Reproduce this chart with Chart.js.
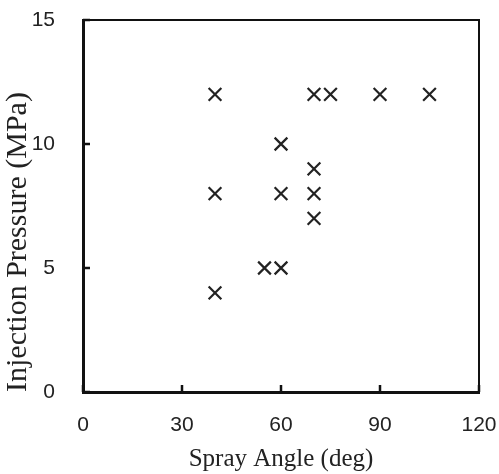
<!DOCTYPE html>
<html lang="en">
<head>
 <meta charset="UTF-8">
 <title>Spray Angle vs Injection Pressure</title>
 <script src="https://cdn.jsdelivr.net/npm/chart.js"></script>
 <style>
 html, body { margin: 0; padding: 0; background: #fff; }
 #wrap { width: 499px; height: 474px; }
 </style>
</head>
<body>
 <div id="wrap"><canvas id="sprayChart" width="499" height="474"></canvas></div>
 <script>
 // values
 let sprayAngle = [40, 40, 40, 55, 60, 60, 60, 70, 75, 70, 70, 70, 90, 105];
 let injectionPressure = [12, 8, 4, 5, 5, 8, 10, 12, 12, 9, 8, 7, 12, 12];
 let xTicks = [0, 30, 60, 90, 120];
 let yTicks = [0, 5, 10, 15];

 let points = sprayAngle.map((a, i) => ({ x: a, y: injectionPressure[i] }));

 // inward tick marks + thinner top/right frame
 const frame = {
   id: 'frame',
   afterDraw(chart) {
     let ctx = chart.ctx;
     let a = chart.chartArea;
     let xs = chart.scales.x, ys = chart.scales.y;
     ctx.save();
     ctx.strokeStyle = '#111';
     ctx.lineWidth = 2;
     ctx.beginPath();
     ctx.moveTo(a.left, a.top);
     ctx.lineTo(a.right, a.top);
     ctx.lineTo(a.right, a.bottom);
     ctx.stroke();
     ctx.lineWidth = 2.5;
     ctx.beginPath();
     xTicks.forEach(v => {
       let px = xs.getPixelForValue(v);
       ctx.moveTo(px, a.bottom);
       ctx.lineTo(px, a.bottom - 7);
     });
     yTicks.forEach(v => {
       let py = ys.getPixelForValue(v);
       ctx.moveTo(a.left, py);
       ctx.lineTo(a.left + 7, py);
     });
     ctx.stroke();
     ctx.restore();
   }
 };

 new Chart(document.getElementById('sprayChart'), {
   type: 'scatter',
   data: {
     datasets: [{
       data: points,
       pointStyle: 'crossRot',
       pointRadius: 9,
       pointBorderWidth: 2.2,
       borderColor: '#222',
       backgroundColor: '#222'
     }]
   },
   options: {
     responsive: false,
     animation: false,
     layout: { padding: { top: 20, right: 20, left: 0, bottom: 0 } },
     plugins: { legend: { display: false }, tooltip: { enabled: false } },
     scales: {
       x: {
         min: 0, max: 120,
         afterBuildTicks: s => { s.ticks = xTicks.map(v => ({ value: v })); },
         afterFit: s => { s.height = 82; s.paddingLeft = 0; s.paddingRight = 0; },
         grid: { display: false },
         border: { display: true, color: '#111', width: 3 },
         ticks: { color: '#222', padding: 13, maxRotation: 0,
                  font: { family: 'Liberation Sans', size: 21 } },
         title: { display: true, text: 'Spray Angle (deg)', color: '#222',
                  padding: { top: 6, bottom: 0 },
                  font: { family: 'Liberation Serif', size: 25 } }
       },
       y: {
         min: 0, max: 15,
         afterBuildTicks: s => { s.ticks = yTicks.map(v => ({ value: v })); },
         afterFit: s => { s.width = 83; s.paddingTop = 0; s.paddingBottom = 0; },
         grid: { display: false },
         border: { display: true, color: '#111', width: 3 },
         ticks: { color: '#222', padding: 20,
                  font: { family: 'Liberation Sans', size: 21 } },
         title: { display: true, text: 'Injection Pressure (MPa)', color: '#222',
                  align: 'start', padding: 0,
                  font: { family: 'Liberation Serif', size: 30 } }
       }
     }
   },
   plugins: [frame]
 });
 </script>
</body>
</html>
